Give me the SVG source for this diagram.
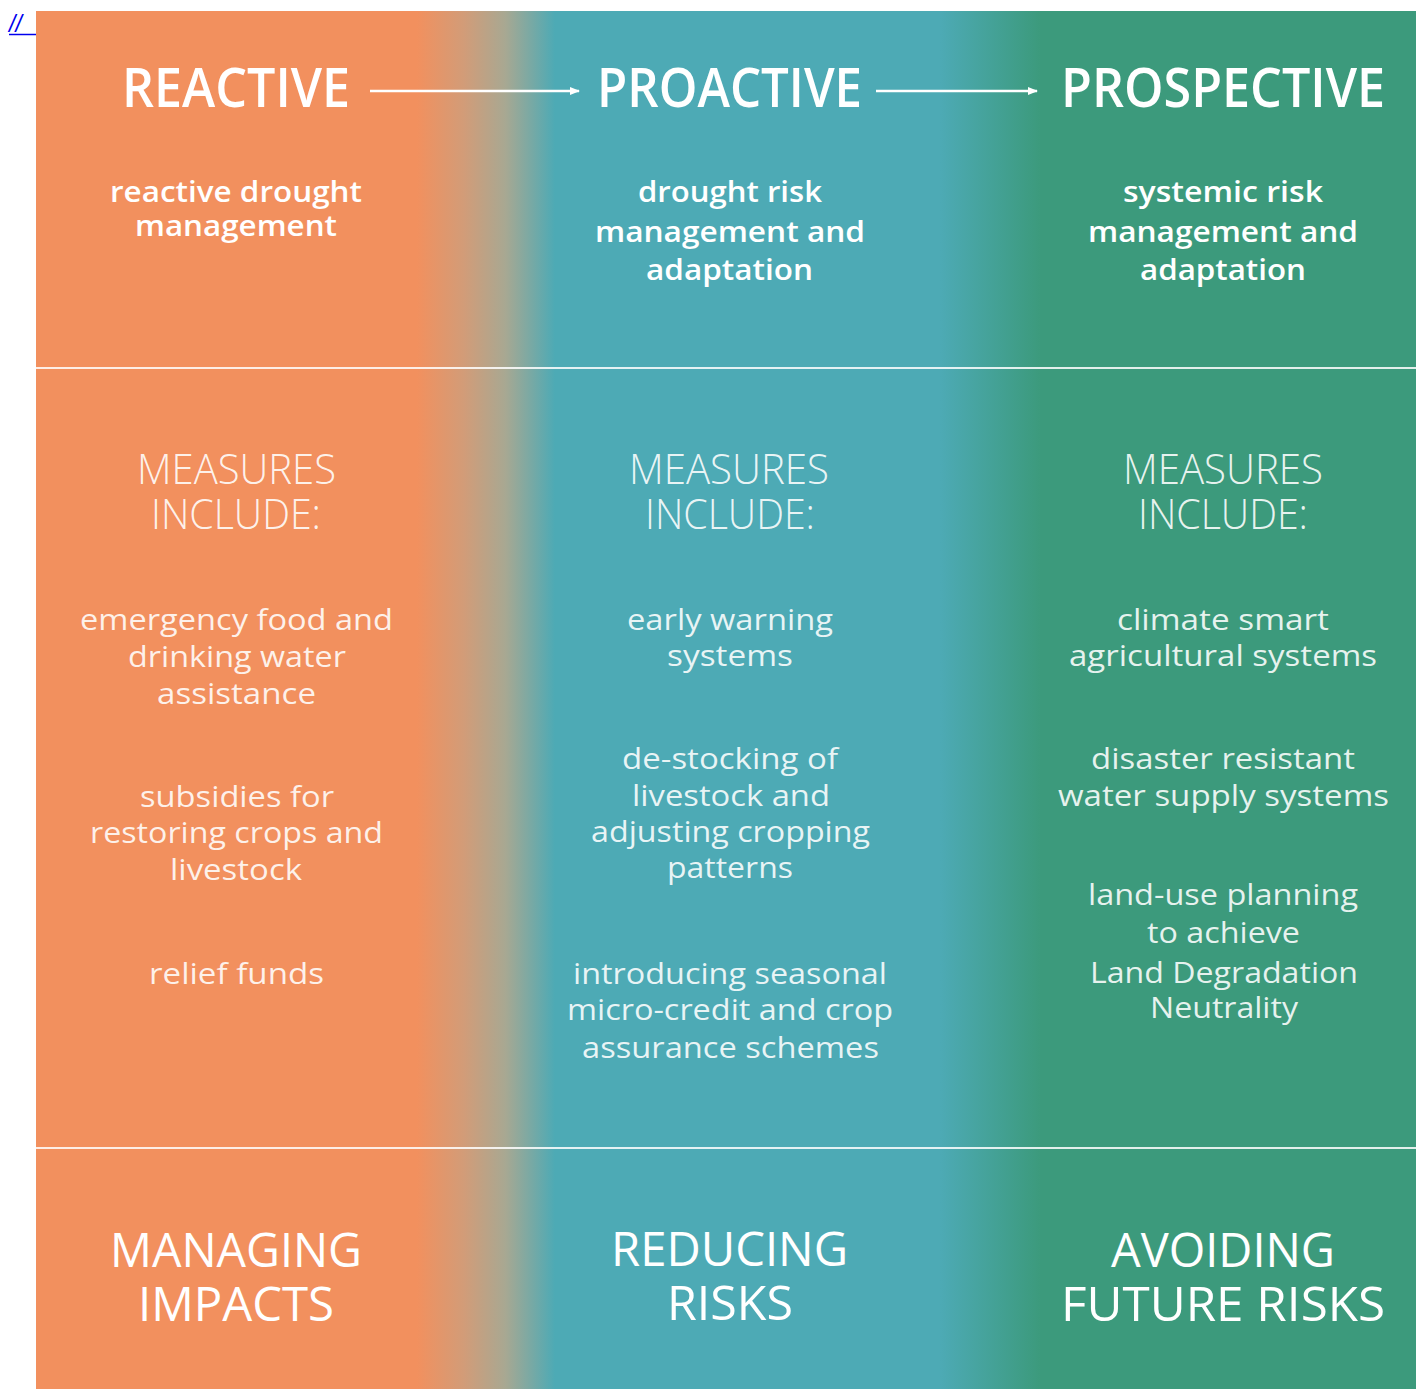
<svg xmlns="http://www.w3.org/2000/svg" width="1416" height="1389" viewBox="0 0 1416 1389">
<defs>
<linearGradient id="bg" gradientUnits="userSpaceOnUse" x1="36" y1="0" x2="1416" y2="0">
<stop offset="0" stop-color="#F2905E"/>
<stop offset="0.276" stop-color="#F2905E"/>
<stop offset="0.31" stop-color="#D29C78"/>
<stop offset="0.34" stop-color="#A8A892"/>
<stop offset="0.376" stop-color="#4DAAB5"/>
<stop offset="0.655" stop-color="#4DAAB5"/>
<stop offset="0.728" stop-color="#3C9A7C"/>
<stop offset="1" stop-color="#3C9A7C"/>
</linearGradient>
<marker id="ah" viewBox="0 0 10 10" refX="9" refY="5" markerWidth="4" markerHeight="4" orient="auto" markerUnits="strokeWidth">
<path d="M0,1 L10,5 L0,9 z" fill="#FFFFFF"/>
</marker>
</defs>
<style>
text{font-family:"Open Sans","Noto Sans","Liberation Sans",sans-serif;fill:#FFFFFF;text-anchor:middle}
.h{font-size:54px;font-weight:600}
.s{font-size:29px;font-weight:600}
.m{font-size:42px;font-weight:300;fill-opacity:0.9}
.b{font-size:30px;font-weight:400;fill-opacity:0.88}
.o{font-size:48px;font-weight:400}
.rule{stroke:#FFFFFF;stroke-opacity:0.85;stroke-width:2}
.arrow{stroke:#FFFFFF;stroke-width:2.5;fill:none}
</style>
<rect x="0" y="0" width="1416" height="1389" fill="#FFFFFF"/>
<text x="9" y="32" style="font-family:'Liberation Sans',sans-serif;font-size:23px;font-style:italic;fill:#0000EE;text-anchor:start">//</text>
<line x1="9" y1="34.5" x2="36" y2="34.5" stroke="#0000EE" stroke-width="1.5"/>
<rect id="background" x="36" y="11" width="1380" height="1378" fill="url(#bg)"/>
<line class="rule" x1="36" y1="368" x2="1416" y2="368"/>
<line class="rule" x1="36" y1="1148" x2="1416" y2="1148"/>

<g id="connectors">
<line class="arrow" x1="370" y1="91" x2="579" y2="91" marker-end="url(#ah)"/>
<line class="arrow" x1="876" y1="91" x2="1037" y2="91" marker-end="url(#ah)"/>
</g>

<g id="reactive">
<text class="h" x="236" y="107" textLength="228" lengthAdjust="spacingAndGlyphs">REACTIVE</text>
<text class="s" x="236" y="202" textLength="252" lengthAdjust="spacingAndGlyphs">reactive drought</text>
<text class="s" x="236" y="236" textLength="202" lengthAdjust="spacingAndGlyphs">management</text>
<text class="m" x="236.5" y="484" textLength="199" lengthAdjust="spacingAndGlyphs">MEASURES</text>
<text class="m" x="236" y="529" textLength="170" lengthAdjust="spacingAndGlyphs">INCLUDE:</text>
<text class="b" x="236.5" y="630" textLength="313" lengthAdjust="spacingAndGlyphs">emergency food and</text>
<text class="b" x="237" y="667" textLength="218" lengthAdjust="spacingAndGlyphs">drinking water</text>
<text class="b" x="236.5" y="704" textLength="159" lengthAdjust="spacingAndGlyphs">assistance</text>
<text class="b" x="237" y="807" textLength="194" lengthAdjust="spacingAndGlyphs">subsidies for</text>
<text class="b" x="236.5" y="843" textLength="293" lengthAdjust="spacingAndGlyphs">restoring crops and</text>
<text class="b" x="236" y="880" textLength="132" lengthAdjust="spacingAndGlyphs">livestock</text>
<text class="b" x="236.5" y="984" textLength="175" lengthAdjust="spacingAndGlyphs">relief funds</text>
<text class="o" x="236" y="1267" textLength="252" lengthAdjust="spacingAndGlyphs">MANAGING</text>
<text class="o" x="236" y="1321" textLength="196" lengthAdjust="spacingAndGlyphs">IMPACTS</text>
</g>

<g id="proactive">
<text class="h" x="729.5" y="107" textLength="265" lengthAdjust="spacingAndGlyphs">PROACTIVE</text>
<text class="s" x="730" y="202" textLength="184" lengthAdjust="spacingAndGlyphs">drought risk</text>
<text class="s" x="730" y="242" textLength="270" lengthAdjust="spacingAndGlyphs">management and</text>
<text class="s" x="729.5" y="280" textLength="167" lengthAdjust="spacingAndGlyphs">adaptation</text>
<text class="m" x="729" y="484" textLength="200" lengthAdjust="spacingAndGlyphs">MEASURES</text>
<text class="m" x="730" y="529" textLength="170" lengthAdjust="spacingAndGlyphs">INCLUDE:</text>
<text class="b" x="730" y="630" textLength="206" lengthAdjust="spacingAndGlyphs">early warning</text>
<text class="b" x="730" y="666" textLength="126" lengthAdjust="spacingAndGlyphs">systems</text>
<text class="b" x="730" y="769" textLength="216" lengthAdjust="spacingAndGlyphs">de-stocking of</text>
<text class="b" x="731" y="806" textLength="198" lengthAdjust="spacingAndGlyphs">livestock and</text>
<text class="b" x="730.5" y="842" textLength="279" lengthAdjust="spacingAndGlyphs">adjusting cropping</text>
<text class="b" x="730" y="878" textLength="126" lengthAdjust="spacingAndGlyphs">patterns</text>
<text class="b" x="730" y="984" textLength="314" lengthAdjust="spacingAndGlyphs">introducing seasonal</text>
<text class="b" x="730" y="1020" textLength="326" lengthAdjust="spacingAndGlyphs">micro-credit and crop</text>
<text class="b" x="730.5" y="1058" textLength="297" lengthAdjust="spacingAndGlyphs">assurance schemes</text>
<text class="o" x="729.5" y="1266" textLength="237" lengthAdjust="spacingAndGlyphs">REDUCING</text>
<text class="o" x="730" y="1320" textLength="126" lengthAdjust="spacingAndGlyphs">RISKS</text>
</g>

<g id="prospective">
<text class="h" x="1223" y="107" textLength="324" lengthAdjust="spacingAndGlyphs">PROSPECTIVE</text>
<text class="s" x="1223" y="202" textLength="200" lengthAdjust="spacingAndGlyphs">systemic risk</text>
<text class="s" x="1223" y="242" textLength="270" lengthAdjust="spacingAndGlyphs">management and</text>
<text class="s" x="1223" y="280" textLength="166" lengthAdjust="spacingAndGlyphs">adaptation</text>
<text class="m" x="1223" y="484" textLength="200" lengthAdjust="spacingAndGlyphs">MEASURES</text>
<text class="m" x="1223" y="529" textLength="170" lengthAdjust="spacingAndGlyphs">INCLUDE:</text>
<text class="b" x="1223" y="630" textLength="212" lengthAdjust="spacingAndGlyphs">climate smart</text>
<text class="b" x="1223" y="666" textLength="308" lengthAdjust="spacingAndGlyphs">agricultural systems</text>
<text class="b" x="1223" y="769" textLength="264" lengthAdjust="spacingAndGlyphs">disaster resistant</text>
<text class="b" x="1223.5" y="806" textLength="331" lengthAdjust="spacingAndGlyphs">water supply systems</text>
<text class="b" x="1223" y="905" textLength="270" lengthAdjust="spacingAndGlyphs">land-use planning</text>
<text class="b" x="1223.5" y="943" textLength="153" lengthAdjust="spacingAndGlyphs">to achieve</text>
<text class="b" x="1224" y="983" textLength="268" lengthAdjust="spacingAndGlyphs">Land Degradation</text>
<text class="b" x="1224" y="1018" textLength="148" lengthAdjust="spacingAndGlyphs">Neutrality</text>
<text class="o" x="1223" y="1267" textLength="224" lengthAdjust="spacingAndGlyphs">AVOIDING</text>
<text class="o" x="1223" y="1321" textLength="324" lengthAdjust="spacingAndGlyphs">FUTURE RISKS</text>
</g>
</svg>
